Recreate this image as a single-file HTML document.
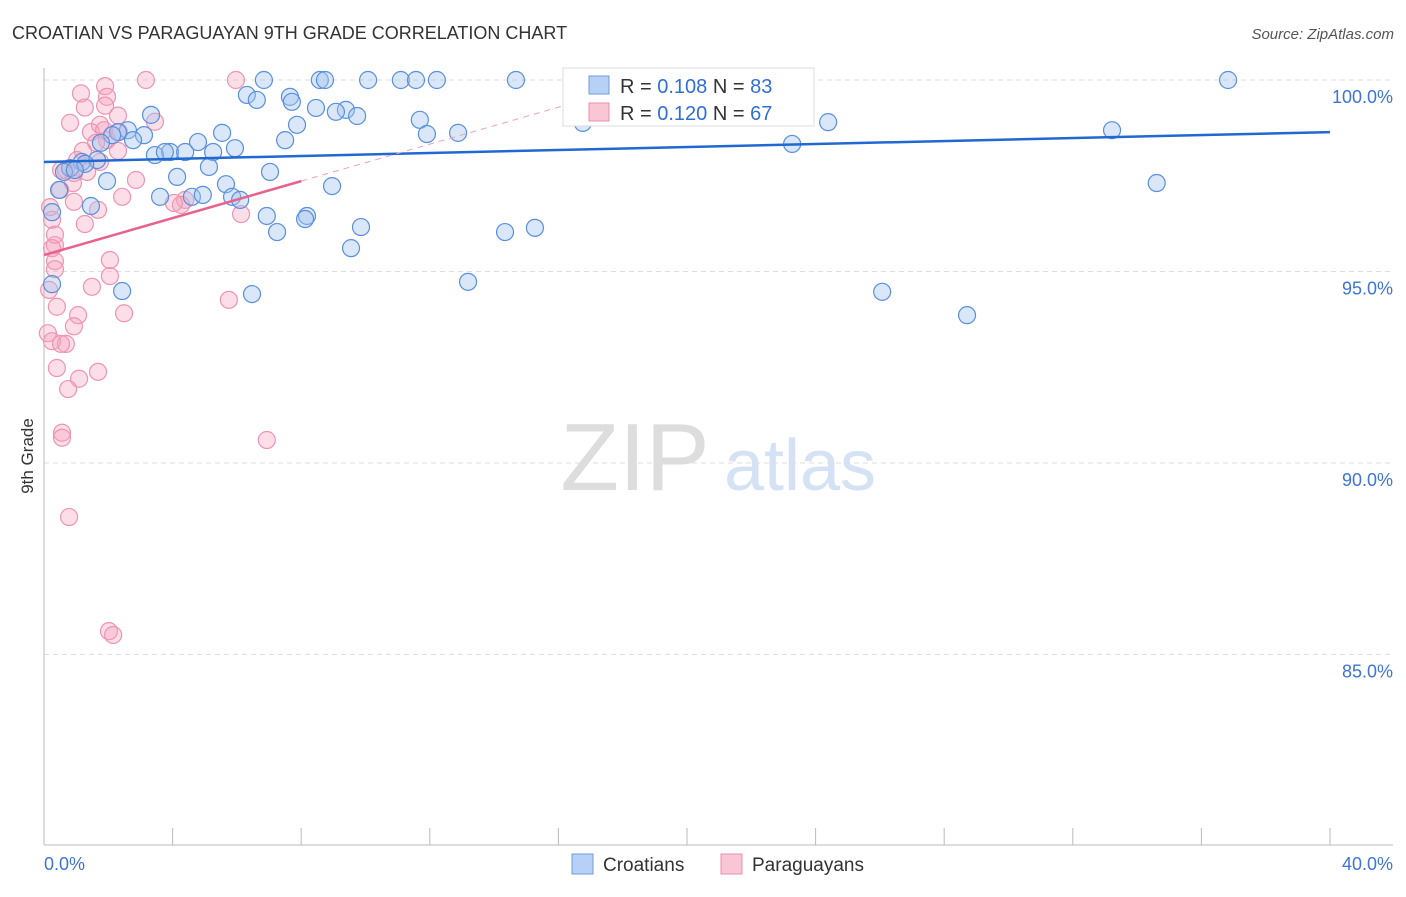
<!DOCTYPE html>
<html><head><meta charset="utf-8"><style>
body{margin:0;background:#fff;font-family:"Liberation Sans",sans-serif;}
svg text{font-family:"Liberation Sans",sans-serif;}
</style></head><body>
<svg width="1406" height="892" xmlns="http://www.w3.org/2000/svg" id="svg">
<text x="12" y="39" font-size="18" fill="#333">CROATIAN VS PARAGUAYAN 9TH GRADE CORRELATION CHART</text>
<text x="1394" y="39" font-size="15" fill="#555" text-anchor="end" font-style="italic">Source: ZipAtlas.com</text>
<text transform="translate(33,456) rotate(-90)" font-size="17" fill="#333" text-anchor="middle">9th Grade</text>
<g><text x="635" y="490" font-size="96" fill="#ddd" font-family="Liberation Serif,serif" text-anchor="middle">ZIP</text><text x="800" y="490" font-size="72" fill="#d5e2f5" text-anchor="middle">atlas</text></g>
<g id="grid"></g><g id="axes"></g><g id="pts"></g><g id="lines"></g>
<g>
<rect x="563" y="68" width="251" height="58" fill="#fff" stroke="#ddd"/>
<rect x="589" y="76" width="20" height="18" fill="#b7d0f5" stroke="#6c9be0"/>
<text x="620" y="93" font-size="20" fill="#333">R = <tspan fill="#2f6fd6">0.108</tspan>   N = <tspan fill="#2f6fd6">83</tspan></text>
<rect x="589" y="103" width="20" height="18" fill="#f9c6d5" stroke="#ec8fab"/>
<text x="620" y="120" font-size="20" fill="#333">R = <tspan fill="#2f6fd6">0.120</tspan>   N = <tspan fill="#2f6fd6">67</tspan></text>
</g>
<g>
<rect x="572" y="854" width="21" height="20" fill="#b7d0f5" stroke="#6c9be0"/>
<text x="603" y="871" font-size="19" fill="#333">Croatians</text>
<rect x="721" y="854" width="21" height="20" fill="#f9c6d5" stroke="#ec8fab"/>
<text x="752" y="871" font-size="19" fill="#333">Paraguayans</text>
</g>
</svg>
<script>
const yTicks=[100,95,90,85];
const xTickLabels=["0.0%","40.0%"];
const blueX=[6.84,8.58,8.74,10.08,11.1,11.57,12.22,14.68,17.98,36.83,22.27,6.31,6.62,7.65,7.71,8.46,9.39,9.08,9.74,3.33,11.69,7.87,24.39,16.76,11.91,12.88,33.22,5.54,3.11,2.61,2.3,2.12,2.77,1.77,7.5,4.79,5.94,3.92,3.45,4.39,5.26,3.76,23.27,1.65,1.18,0.81,0.62,5.13,7.03,4.14,1.96,5.66,8.96,34.61,0.47,4.6,4.94,3.61,5.85,6.1,1.46,6.93,8.18,8.12,7.25,9.86,14.34,15.27,9.55,13.19,26.07,2.43,6.47,28.71,0.25,0.25,1.28,0.96];
const blueY=[100,100,100,100,100,100,100,100,100,100,100,99.61,99.48,99.56,99.43,99.27,99.22,99.17,99.06,99.09,98.96,98.83,98.9,98.88,98.59,98.62,98.69,98.62,98.56,98.69,98.64,98.56,98.43,98.36,98.43,98.38,98.22,98.12,98.04,98.12,98.12,98.12,98.33,97.91,97.86,97.7,97.6,97.73,97.6,97.47,97.36,97.28,97.23,97.31,97.13,96.95,97.0,96.95,96.95,96.87,96.71,96.45,96.45,96.37,96.03,96.16,96.03,96.14,95.61,94.73,94.47,94.49,94.41,93.86,96.55,94.67,97.81,97.65];
const pinkX=[3.17,5.97,1.9,1.15,1.96,1.9,1.27,2.3,3.45,0.81,1.74,1.46,2.33,1.96,1.87,1.62,1.21,2.3,1.03,1.74,0.53,0.68,0.93,1.34,0.9,2.86,0.5,2.43,4.39,4.26,4.04,6.13,1.68,0.93,0.19,1.27,0.25,0.34,0.25,0.34,0.34,2.05,2.05,1.49,0.16,0.4,5.75,2.49,1.06,0.93,0.12,0.25,0.68,0.53,0.4,1.68,1.09,0.75,0.56,0.56,6.93,0.78,2.02,2.15,0.34];
const pinkY=[100,100,99.84,99.65,99.56,99.33,99.28,99.07,98.91,98.88,98.83,98.64,98.64,98.43,98.69,98.36,98.15,98.15,97.91,97.86,97.65,97.65,97.57,97.6,97.31,97.39,97.13,96.95,96.87,96.74,96.79,96.5,96.61,96.82,96.68,96.24,96.35,95.69,95.61,95.27,95.06,95.3,94.88,94.6,94.52,94.08,94.26,93.91,93.86,93.57,93.39,93.18,93.11,93.11,92.48,92.38,92.2,91.93,90.79,90.66,90.6,88.59,85.61,85.51,95.96];
const blueFit=[97.86,98.64];
const pinkFit=[95.43,97.36,8];
const NS="http://www.w3.org/2000/svg";
const xs=v=>44+v*32.15, ys=v=>80+(100-v)*38.3;
function mk(tag,attrs,parent){const e=document.createElementNS(NS,tag);for(const k in attrs)e.setAttribute(k,attrs[k]);document.getElementById(parent).appendChild(e);return e;}
yTicks.forEach(t=>{
 const l=mk('line',{x1:44,x2:1393,y1:ys(t),y2:ys(t),stroke:'#ddd','stroke-dasharray':'5,4'},'grid');
 
 
 const tx=mk('text',{x:1393,y:ys(t)+23,'font-size':18,fill:'#3d74d6','text-anchor':'end'},'grid');
 tx.textContent=t.toFixed(1)+'%';
 
 
});
const ax=mk('line',{x1:44,x2:44,y1:68,y2:845,stroke:'#bbb'},'axes');


const bx=mk('line',{x1:44,x2:1393,y1:845,y2:845,stroke:'#bbb'},'axes');


for(let i=0;i<=10;i++){const t=mk('line',{x1:xs(i*4),x2:xs(i*4),y1:828,y2:845,stroke:'#bbb'},'axes');
 
 }
[[0,xTickLabels[0],'start',44],[40,xTickLabels[1],'end',1393]].forEach(a=>{
 const t=mk('text',{x:a[3],y:870,'font-size':18,fill:'#3d74d6','text-anchor':a[2]},'axes');t.textContent=a[1];
 
 });
pinkX.forEach((x,i)=>{const c=mk('circle',{cx:xs(x),cy:ys(pinkY[i]),r:8.5,fill:'rgba(246,160,188,0.35)',stroke:'#ef94b0','stroke-width':1.2},'pts');
 
 });
blueX.forEach((x,i)=>{const c=mk('circle',{cx:xs(x),cy:ys(blueY[i]),r:8.5,fill:'rgba(160,196,240,0.4)',stroke:'#5a8fdc','stroke-width':1.2},'pts');
 
 });
const bl=mk('line',{x1:xs(0),y1:ys(blueFit[0]),x2:xs(40),y2:ys(blueFit[1]),stroke:'#2069d2','stroke-width':2.5},'lines');


const slope=(pinkFit[1]-pinkFit[0])/pinkFit[2];
const pd=mk('line',{x1:xs(pinkFit[2]),y1:ys(pinkFit[1]),x2:xs(17.5),y2:ys(pinkFit[0]+slope*17.5),stroke:'#eea0b8','stroke-width':1,'stroke-dasharray':'6,5'},'lines');


const pl=mk('line',{x1:xs(0),y1:ys(pinkFit[0]),x2:xs(pinkFit[2]),y2:ys(pinkFit[1]),stroke:'#e8628e','stroke-width':2.5},'lines');


</script>
</body></html>
